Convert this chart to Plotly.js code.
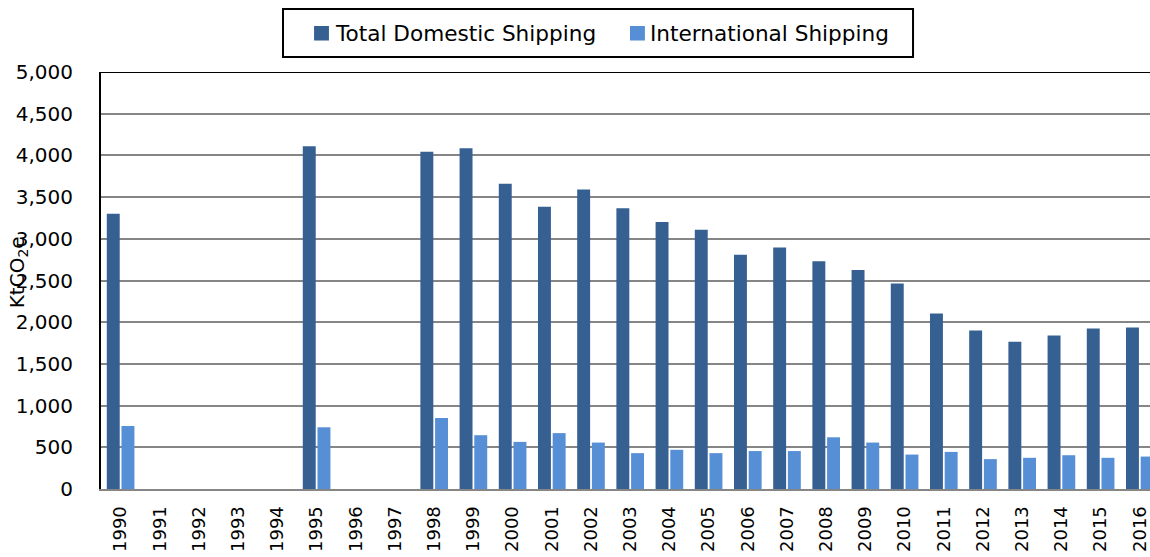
<!DOCTYPE html>
<html>
<head>
<meta charset="utf-8">
<script src="https://cdn.plot.ly/plotly-3.0.1.min.js"></script>
<style>html,body{margin:0;padding:0;background:#fff;overflow:hidden;}</style>
</head>
<body>
<div id="chart" style="width:1150px;height:557px;"></div>
<script>
const years = ["1990","1991","1992","1993","1994","1995","1996","1997","1998","1999","2000","2001","2002","2003","2004","2005","2006","2007","2008","2009","2010","2011","2012","2013","2014","2015","2016"];
const domestic = [3300,null,null,null,null,4110,null,null,4045,4085,3660,3385,3590,3365,3200,3110,2810,2895,2730,2625,2465,2105,1900,1765,1840,1925,1935];
const international = [755,null,null,null,null,740,null,null,850,645,565,670,557,430,470,430,455,455,620,557,413,445,358,374,405,374,389];

const seriesNames = ["Total Domestic Shipping","International Shipping"];
const colors = ["#366092","#568FD6"];
const FONT = "'DejaVu Sans', sans-serif";

const traces = [
  {type:"bar", name:seriesNames[0], x:years, y:domestic, marker:{color:colors[0]}, hoverinfo:"x+y"},
  {type:"bar", name:seriesNames[1], x:years, y:international, marker:{color:colors[1]}, hoverinfo:"x+y"}
];

// custom legend (paper coordinates relative to the plot area)
const legX0 = [0.2031, 0.5043];
const shapes = [
  {type:"line", xref:"paper", yref:"y", x0:0, x1:1, y0:5000, y1:5000, line:{color:"#000", width:2}},
  {type:"rect", xref:"paper", yref:"paper", x0:0.1735, x1:0.7741, y0:1.0360, y1:1.1511, line:{color:"#000", width:2}, fillcolor:"rgba(0,0,0,0)"}
];
const annotations = [
  {text:"KtCO<sub>2</sub>e", xref:"paper", yref:"paper", x:-0.079, y:0.52, xanchor:"center", yanchor:"middle",
   textangle:-90, showarrow:false, font:{family:FONT, size:20, color:"#000"}}
];
seriesNames.forEach((n, i) => {
  shapes.push({type:"rect", xref:"paper", yref:"paper", x0:legX0[i], x1:legX0[i] + 0.0142, y0:1.0755, y1:1.1103,
               line:{width:0}, fillcolor:colors[i]});
  annotations.push({text:n, xref:"paper", yref:"paper", x:legX0[i] + 0.0176, y:1.0935, xanchor:"left", yanchor:"middle",
                    showarrow:false, font:{family:FONT, size:21.6, color:"#000"}});
});

const layout = {
  width:1150, height:557,
  margin:{l:101, r:0, t:72, b:68},
  paper_bgcolor:"#fff", plot_bgcolor:"#fff",
  font:{family:FONT, size:20, color:"#000"},
  barmode:"group", bargap:0.25, bargroupgap:0.12,
  showlegend:false,
  xaxis:{
    type:"category", range:[-0.5, 26.26],
    tickangle:-90, showgrid:false, showline:true, linecolor:"#868686", linewidth:2,
    ticks:"", ticklabelstandoff:8,
    tickfont:{family:FONT, size:18, color:"#000"}
  },
  yaxis:{
    range:[0,5000], dtick:500, tickformat:",d",
    showgrid:true, gridcolor:"#868686", gridwidth:2,
    zeroline:false, showline:true, linecolor:"#000", linewidth:2,
    ticks:"", ticklabelstandoff:22,
    tickfont:{family:FONT, size:20, color:"#000"}
  },
  shapes: shapes,
  annotations: annotations
};

Plotly.newPlot("chart", traces, layout, {displayModeBar:false, staticPlot:true});
</script>
</body>
</html>
